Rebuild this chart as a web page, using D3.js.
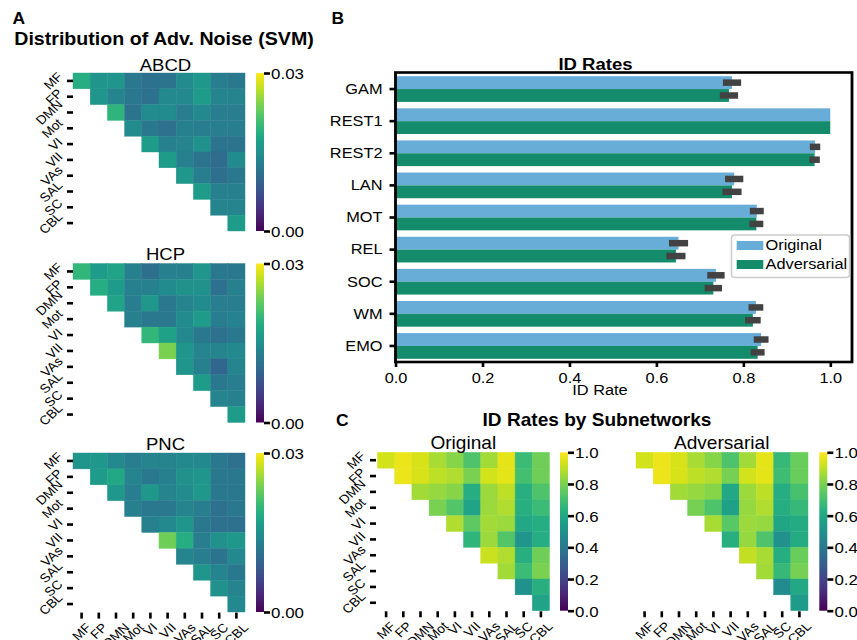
<!DOCTYPE html>
<html>
<head>
<meta charset="utf-8">
<script src="https://cdn.jsdelivr.net/npm/d3@7"></script>
<style>
body { margin:0; background:#fff; }
svg text { font-family: "Liberation Sans", Arial, Helvetica, sans-serif; fill:#000; }
</style>
</head>
<body>
<svg id="chart" width="857" height="640"></svg>
<script>
// ---------------- DATA ----------------
const networks = ["MF","FP","DMN","Mot","VI","VII","VAs","SAL","SC","CBL"];
const tasks = ["GAM","REST1","REST2","LAN","MOT","REL","SOC","WM","EMO"];
const idOriginal    = [0.774, 1.000, 0.965, 0.779, 0.831, 0.651, 0.737, 0.829, 0.841];
const idAdversarial = [0.767, 1.000, 0.964, 0.774, 0.830, 0.645, 0.731, 0.822, 0.833];
const errOriginal    = [0.021, 0.000, 0.012, 0.021, 0.016, 0.022, 0.020, 0.017, 0.017];
const errAdversarial = [0.021, 0.000, 0.012, 0.022, 0.016, 0.022, 0.020, 0.018, 0.016];
const rateAxisTicks = [0, 0.2, 0.4, 0.6, 0.8, 1.0];
const noiseTicks = [0, 0.03];
const subnetTicks = [0, 0.2, 0.4, 0.6, 0.8, 1.0];

// upper-triangle rows (row i starts at column i)
const noiseABCD = [
  [0.0186,0.0156,0.0156,0.0120,0.0111,0.0114,0.0144,0.0159,0.0126,0.0120],
  [0.0156,0.0135,0.0120,0.0111,0.0141,0.0141,0.0165,0.0135,0.0135],
  [0.0195,0.0114,0.0144,0.0144,0.0126,0.0141,0.0126,0.0126],
  [0.0144,0.0120,0.0111,0.0129,0.0126,0.0126,0.0126],
  [0.0165,0.0129,0.0135,0.0150,0.0114,0.0114],
  [0.0165,0.0129,0.0114,0.0105,0.0144],
  [0.0159,0.0126,0.0108,0.0120],
  [0.0165,0.0129,0.0129],
  [0.0135,0.0135],
  [0.0165]
];
const noiseHCP = [
  [0.0198,0.0165,0.0174,0.0129,0.0108,0.0129,0.0129,0.0156,0.0120,0.0120],
  [0.0186,0.0165,0.0129,0.0129,0.0144,0.0150,0.0150,0.0111,0.0129],
  [0.0174,0.0126,0.0159,0.0120,0.0135,0.0144,0.0126,0.0126],
  [0.0129,0.0120,0.0120,0.0144,0.0165,0.0126,0.0132],
  [0.0198,0.0171,0.0141,0.0120,0.0111,0.0120],
  [0.0240,0.0156,0.0135,0.0135,0.0141],
  [0.0156,0.0129,0.0099,0.0135],
  [0.0165,0.0120,0.0126],
  [0.0135,0.0129],
  [0.0165]
];
const noisePNC = [
  [0.0156,0.0159,0.0141,0.0126,0.0135,0.0135,0.0141,0.0141,0.0120,0.0111],
  [0.0165,0.0180,0.0135,0.0120,0.0129,0.0150,0.0156,0.0120,0.0120],
  [0.0159,0.0126,0.0159,0.0135,0.0144,0.0159,0.0120,0.0120],
  [0.0129,0.0120,0.0120,0.0135,0.0126,0.0111,0.0120],
  [0.0129,0.0141,0.0156,0.0120,0.0111,0.0111],
  [0.0234,0.0186,0.0126,0.0150,0.0159],
  [0.0135,0.0126,0.0114,0.0141],
  [0.0156,0.0135,0.0120],
  [0.0150,0.0135],
  [0.0141]
];
const rateOriginal = [
  [0.93,0.97,0.94,0.87,0.82,0.72,0.86,0.96,0.68,0.78],
  [0.97,0.94,0.90,0.88,0.80,0.93,0.96,0.70,0.78],
  [0.86,0.84,0.82,0.62,0.85,0.90,0.63,0.72],
  [0.80,0.73,0.58,0.85,0.88,0.63,0.68],
  [0.88,0.75,0.86,0.85,0.60,0.62],
  [0.65,0.85,0.73,0.52,0.62],
  [0.92,0.88,0.63,0.78],
  [0.86,0.68,0.80],
  [0.50,0.63],
  [0.58]
];
const rateAdversarial = [
  [0.93,0.97,0.94,0.87,0.82,0.72,0.86,0.96,0.67,0.77],
  [0.97,0.94,0.90,0.88,0.79,0.93,0.96,0.69,0.77],
  [0.86,0.84,0.82,0.60,0.85,0.90,0.62,0.71],
  [0.79,0.72,0.57,0.84,0.88,0.62,0.67],
  [0.87,0.74,0.85,0.84,0.59,0.61],
  [0.63,0.84,0.72,0.50,0.61],
  [0.91,0.87,0.62,0.77],
  [0.86,0.67,0.79],
  [0.48,0.60],
  [0.55]
];

// ---------------- DRAW ----------------
const S = 1.09;              // horizontal stretch of the original figure
const X = v => v / S;
const svg = d3.select("#chart");
const defs = svg.append("defs");
const root = svg.append("g").attr("transform", `scale(${S},1)`);

function styleAxis(a, fs, sw) {
  a.attr("font-size", null).attr("font-family", null);
  a.select(".domain").remove();
  a.selectAll(".tick line").attr("stroke", "#000").attr("stroke-width", sw);
  a.selectAll(".tick text").style("font-size", fs + "px").attr("fill", "#000");
}
function label(x, y, str, fs, weight, anchor) {
  return root.append("text").attr("x", X(x)).attr("y", y)
    .attr("text-anchor", anchor || "middle")
    .style("font-size", fs + "px").style("font-weight", weight || "normal").text(str);
}

function heatmap(p) {
  const g = root.append("g");
  const x = d3.scaleBand().domain(networks).range([X(p.x0), X(p.x1)]);
  const y = d3.scaleBand().domain(networks).range([p.y0, p.y1]);
  const color = d3.scaleSequential(d3.interpolateViridis).domain(p.domain);
  const cells = [];
  p.data.forEach((row, i) => row.forEach((v, k) => cells.push({ r: networks[i], c: networks[i + k], v })));
  g.selectAll("rect.cell").data(cells).join("rect").attr("class", "cell")
    .attr("x", d => x(d.c)).attr("y", d => y(d.r))
    .attr("width", x.bandwidth()).attr("height", y.bandwidth())
    .attr("fill", d => color(d.v)).attr("stroke", d => color(d.v)).attr("stroke-width", 0.4);

  if (p.showY) {
    const ya = g.append("g").attr("transform", `translate(${X(p.yAxisX)},0)`)
      .call(d3.axisLeft(y).tickSize(6 / S).tickPadding(0));
    styleAxis(ya, 12.5, 2.6);
    ya.selectAll(".tick text").each(function () {
      const t = d3.select(this).attr("x", null).attr("dy", null)
        .attr("text-anchor", "middle").attr("dominant-baseline", "central");
      const L = this.getComputedTextLength();
      const w = (L + 10) / (2 * Math.SQRT2);
      t.attr("transform", `translate(${X(-9) - w},0) rotate(-45)`);
    });
  }
  if (p.showX) {
    const xa = g.append("g").attr("transform", `translate(0,${p.y1 + 0.6})`)
      .call(d3.axisBottom(x).tickSize(6).tickPadding(0));
    styleAxis(xa, 12.5, 2.4);
    xa.selectAll(".tick text").each(function () {
      const t = d3.select(this).attr("y", null).attr("dy", null)
        .attr("text-anchor", "middle").attr("dominant-baseline", "central");
      const L = this.getComputedTextLength();
      const hh = (L + 10) / (2 * Math.SQRT2);
      t.attr("transform", `translate(0,${9.2 + hh}) rotate(-45)`);
    });
  }
  label(p.titleX, p.titleY, p.title, p.titleSize);

  const id = "grad" + p.id;
  const grad = defs.append("linearGradient").attr("id", id)
    .attr("x1", 0).attr("y1", 1).attr("x2", 0).attr("y2", 0);
  d3.range(0, 21).forEach(k => grad.append("stop").attr("offset", k / 20)
    .attr("stop-color", d3.interpolateViridis(k / 20)));
  g.append("rect").attr("x", X(p.cbX)).attr("y", p.y0).attr("width", X(8))
    .attr("height", p.y1 - p.y0).attr("fill", `url(#${id})`);
  const cy = d3.scaleLinear().domain(p.domain).range([p.y1, p.y0]);
  const ca = g.append("g").attr("transform", `translate(${X(p.cbX + 8)},0)`)
    .call(d3.axisRight(cy).tickValues(p.ticks).tickFormat(d3.format(p.fmt)).tickSize(6 / S).tickPadding(1));
  styleAxis(ca, 15.5, 2.6);
  ca.selectAll(".tick text").attr("dy", "0.36em");
}

// Panel A
label(12.5, 24.5, "A", 16, "bold", "start");
label(164, 45, "Distribution of Adv. Noise (SVM)", 18, "bold");
const noiseCommon = { x0: 73, x1: 245, yAxisX: 73, cbX: 256, domain: [0, 0.03], ticks: noiseTicks,
  fmt: ".2f", titleX: 165.5, titleSize: 17, showY: true };
heatmap(Object.assign({}, noiseCommon, { id: "abcd", data: noiseABCD, y0: 73, y1: 231, title: "ABCD", titleY: 70.7 }));
heatmap(Object.assign({}, noiseCommon, { id: "hcp", data: noiseHCP, y0: 263.5, y1: 422.5, title: "HCP", titleY: 260 }));
heatmap(Object.assign({}, noiseCommon, { id: "pnc", data: noisePNC, y0: 453, y1: 612, title: "PNC", titleY: 450, showX: true }));

// Panel C
label(336, 426, "C", 16, "bold", "start");
label(597, 426, "ID Rates by Subnetworks", 17.5, "bold");
const rateCommon = { y0: 452.3, y1: 610.7, domain: [0, 1], ticks: subnetTicks, fmt: ".1f",
  titleY: 449, titleSize: 17.5, showX: true };
heatmap(Object.assign({}, rateCommon, { id: "orig", data: rateOriginal, x0: 377.5, x1: 549.5, yAxisX: 376,
  cbX: 560, title: "Original", titleX: 463.3, showY: true }));
heatmap(Object.assign({}, rateCommon, { id: "adv", data: rateAdversarial, x0: 636, x1: 808, yAxisX: 634,
  cbX: 819.3, title: "Adversarial", titleX: 721.7, showY: false }));

// Panel B
label(331.5, 24, "B", 16, "bold", "start");
label(595.5, 70, "ID Rates", 17, "bold");
const bx = d3.scaleLinear().domain([0, 1.05]).range([X(395.5), X(852)]);
const by = d3.scaleBand().domain(tasks).range([73, 362]);
const bw = by.bandwidth();
const gb = root.append("g");
const blue = "#68add8", green = "#148b6b";
gb.selectAll("rect.orig").data(tasks).join("rect").attr("class", "orig")
  .attr("x", bx(0)).attr("y", d => by(d) + 0.1 * bw)
  .attr("width", (d, i) => bx(idOriginal[i]) - bx(0)).attr("height", 0.4 * bw).attr("fill", blue);
gb.selectAll("rect.adv").data(tasks).join("rect").attr("class", "adv")
  .attr("x", bx(0)).attr("y", d => by(d) + 0.5 * bw)
  .attr("width", (d, i) => bx(idAdversarial[i]) - bx(0)).attr("height", 0.4 * bw).attr("fill", green);
const errs = [];
tasks.forEach((t, i) => {
  if (errOriginal[i] > 0) errs.push({ y: by(t) + 0.3 * bw, v: idOriginal[i], e: errOriginal[i] });
  if (errAdversarial[i] > 0) errs.push({ y: by(t) + 0.7 * bw, v: idAdversarial[i], e: errAdversarial[i] });
});
gb.selectAll("line.err").data(errs).join("line").attr("class", "err")
  .attr("x1", d => bx(d.v - d.e)).attr("x2", d => bx(d.v + d.e))
  .attr("y1", d => d.y).attr("y2", d => d.y)
  .attr("stroke", "#424242").attr("stroke-width", 6.5);
gb.append("rect").attr("x", X(395.5)).attr("y", 72.5).attr("width", X(852) - X(395.5)).attr("height", 362 - 72.5)
  .attr("fill", "none").attr("stroke", "#000").attr("stroke-width", 2.6);
const yAx = gb.append("g").attr("transform", `translate(${X(395.5)},0)`)
  .call(d3.axisLeft(by).tickSize(6 / S).tickPadding(7 / S));
styleAxis(yAx, 15, 2.6);
const xAx = gb.append("g").attr("transform", "translate(0,362)")
  .call(d3.axisBottom(bx).tickValues(rateAxisTicks).tickFormat(d3.format(".1f")).tickSize(5).tickPadding(5));
styleAxis(xAx, 15, 2.4);
label(600, 395, "ID Rate", 15);
// legend
const lg = gb.append("g");
lg.append("rect").attr("x", X(731.5)).attr("y", 235).attr("width", X(849.5) - X(731.5)).attr("height", 42.5)
  .attr("rx", 3).attr("fill", "#fff").attr("fill-opacity", 0.85).attr("stroke", "#cccccc").attr("stroke-width", 1.4);
[["Original", blue, 241], ["Adversarial", green, 260]].forEach(([name, c, yy]) => {
  lg.append("rect").attr("x", X(736.7)).attr("y", yy).attr("width", X(763.3) - X(736.7)).attr("height", 9).attr("fill", c);
  lg.append("text").attr("x", X(765.5)).attr("y", yy + 9.5).style("font-size", "15px").text(name);
});
</script>
</body>
</html>
